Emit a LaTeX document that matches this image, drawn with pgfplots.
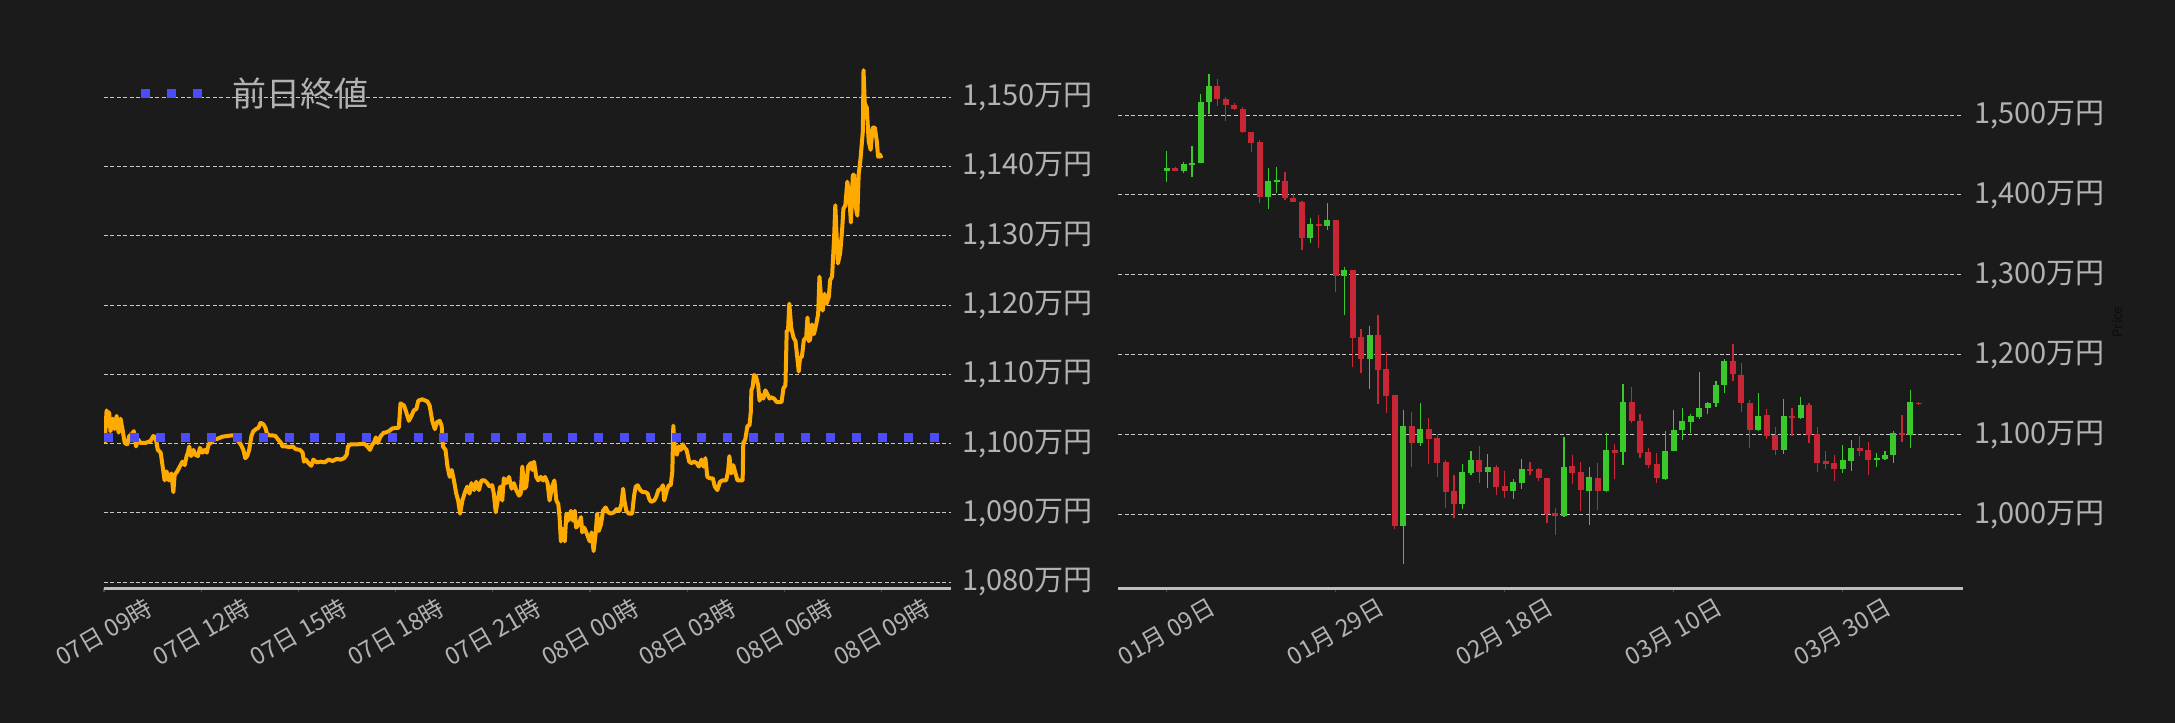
\documentclass[border=0pt]{standalone}
\usepackage{fontspec}
\setmainfont{Noto Sans CJK JP}
\usepackage{pgfplots}
\pgfplotsset{compat=1.18}
\usepackage{pgfplotstable}

\definecolor{bg}{RGB}{27,27,27}
\definecolor{lbl}{RGB}{178,178,178}
\definecolor{grd}{RGB}{200,200,200}
\definecolor{axl}{RGB}{190,190,190}
\definecolor{tck}{RGB}{75,75,75}
\definecolor{btc}{RGB}{255,170,0}
\definecolor{prev}{RGB}{76,76,250}
\definecolor{up}{RGB}{58,201,42}
\definecolor{dn}{RGB}{200,38,52}

% intraday price, hours after 07日 09時, 万円
\pgfplotstableread{
h p
0.02 1100.1
0.08 1104.8
0.12 1102.6
0.16 1104.5
0.20 1101.8
0.27 1103.6
0.33 1102.1
0.39 1104.0
0.45 1101.6
0.51 1103.6
0.57 1102.1
0.64 1100.1
0.72 1099.9
0.78 1101.1
0.84 1101.3
0.92 1101.8
0.99 1099.6
1.05 1100.6
1.13 1100.1
1.28 1100.1
1.44 1100.4
1.52 1101.1
1.59 1100.9
1.66 1099.1
1.75 1098.7
1.81 1096.7
1.87 1094.7
1.93 1096.0
2.00 1094.7
2.08 1095.7
2.14 1093.0
2.18 1095.5
2.26 1096.0
2.34 1096.7
2.42 1097.4
2.49 1096.9
2.55 1098.2
2.59 1098.7
2.63 1099.6
2.69 1098.2
2.76 1099.1
2.82 1098.4
2.90 1098.2
2.96 1099.4
3.04 1098.7
3.11 1099.1
3.17 1098.7
3.23 1099.9
3.29 1100.1
3.39 1100.6
3.50 1100.7
3.65 1101.0
3.80 1101.1
3.96 1101.2
4.06 1101.1
4.13 1100.4
4.22 1099.9
4.30 1099.1
4.36 1097.9
4.42 1098.2
4.48 1099.1
4.55 1101.1
4.61 1101.8
4.69 1102.1
4.77 1102.3
4.83 1103.0
4.92 1102.8
4.98 1102.3
5.04 1101.3
5.12 1101.2
5.20 1101.2
5.29 1101.1
5.37 1100.6
5.45 1100.2
5.51 1099.6
5.61 1099.6
5.72 1099.5
5.82 1099.6
5.92 1099.2
6.05 1099.1
6.13 1098.7
6.17 1097.4
6.23 1097.7
6.31 1097.2
6.40 1096.8
6.46 1097.7
6.56 1097.3
6.69 1097.4
6.81 1097.3
6.93 1097.7
7.06 1097.5
7.18 1097.8
7.30 1097.7
7.41 1097.9
7.49 1098.4
7.53 1099.6
7.61 1099.9
7.82 1099.9
8.02 1100.0
8.13 1099.6
8.21 1099.1
8.28 1099.9
8.33 1100.1
8.39 1100.9
8.45 1100.1
8.54 1101.1
8.64 1101.6
8.69 1101.6
8.79 1101.8
8.90 1102.2
9.10 1102.3
9.15 1105.8
9.26 1105.5
9.33 1104.5
9.41 1103.3
9.49 1104.0
9.56 1104.8
9.64 1105.0
9.70 1106.2
9.82 1106.4
9.98 1106.1
10.05 1105.5
10.13 1103.3
10.21 1102.1
10.28 1103.1
10.36 1103.3
10.42 1102.6
10.46 1099.6
10.54 1099.1
10.60 1096.7
10.67 1095.2
10.73 1096.2
10.80 1094.7
10.87 1092.8
10.93 1091.8
10.99 1089.9
11.06 1091.8
11.14 1093.0
11.21 1093.8
11.28 1092.8
11.34 1094.3
11.42 1093.3
11.49 1094.5
11.57 1093.3
11.65 1094.7
11.74 1094.7
11.83 1094.3
11.90 1093.8
11.98 1094.0
12.03 1092.8
12.09 1090.1
12.15 1091.8
12.23 1093.8
12.29 1091.8
12.34 1095.0
12.41 1094.3
12.50 1095.2
12.58 1093.5
12.65 1094.3
12.72 1093.3
12.81 1092.5
12.86 1092.8
12.91 1096.7
12.97 1093.5
13.03 1093.8
13.09 1096.7
13.17 1097.2
13.22 1096.2
13.27 1097.4
13.34 1095.2
13.40 1094.7
13.48 1095.2
13.55 1094.7
13.61 1095.2
13.69 1094.3
13.75 1091.8
13.83 1093.8
13.90 1094.7
13.96 1091.8
14.02 1091.3
14.06 1089.4
14.10 1085.9
14.16 1087.7
14.22 1085.9
14.27 1089.9
14.33 1088.9
14.41 1090.3
14.47 1088.9
14.53 1090.3
14.57 1087.9
14.66 1088.4
14.72 1089.4
14.76 1087.2
14.82 1087.9
14.91 1086.9
14.99 1085.9
15.05 1087.2
15.11 1084.5
15.17 1086.9
15.22 1089.9
15.27 1087.4
15.34 1088.4
15.40 1090.3
15.48 1090.8
15.56 1090.1
15.64 1089.9
15.74 1090.1
15.83 1090.6
15.91 1090.3
15.97 1091.3
16.02 1093.5
16.06 1091.8
16.12 1090.3
16.20 1089.9
16.30 1089.9
16.36 1092.5
16.41 1093.8
16.47 1094.0
16.55 1093.3
16.63 1093.0
16.71 1093.0
16.78 1092.8
16.82 1092.1
16.88 1091.6
16.98 1091.8
17.04 1092.3
17.11 1093.3
17.19 1093.5
17.25 1094.0
17.29 1091.8
17.37 1093.3
17.43 1094.0
17.49 1094.0
17.54 1096.0
17.57 1102.6
17.61 1099.6
17.68 1098.4
17.74 1099.6
17.80 1099.1
17.86 1099.9
17.92 1099.4
17.98 1099.1
18.06 1097.4
18.13 1097.2
18.21 1097.4
18.29 1097.2
18.36 1096.7
18.44 1097.7
18.50 1096.7
18.56 1097.9
18.62 1095.2
18.70 1095.0
18.79 1095.0
18.85 1093.8
18.93 1093.3
19.01 1094.5
19.09 1094.7
19.20 1094.7
19.26 1096.0
19.30 1098.2
19.36 1095.7
19.42 1096.9
19.49 1095.7
19.55 1094.7
19.65 1094.7
19.71 1094.7
19.73 1100.1
19.79 1100.6
19.86 1102.6
19.92 1102.6
19.96 1104.5
19.98 1107.7
20.02 1108.2
20.06 1109.9
20.12 1109.7
20.19 1108.4
20.23 1106.2
20.29 1107.0
20.35 1106.5
20.41 1107.7
20.47 1107.2
20.54 1106.5
20.58 1106.7
20.68 1106.5
20.76 1106.0
20.84 1106.0
20.91 1106.0
20.97 1108.0
21.03 1108.4
21.07 1116.3
21.11 1116.3
21.15 1120.2
21.21 1116.7
21.28 1115.3
21.34 1114.8
21.40 1112.3
21.44 1110.4
21.48 1112.3
21.54 1112.6
21.60 1115.0
21.67 1115.3
21.71 1118.2
21.75 1114.8
21.79 1115.0
21.85 1117.2
21.91 1115.8
21.98 1117.2
22.04 1118.7
22.08 1124.1
22.12 1121.6
22.18 1119.2
22.24 1121.6
22.30 1120.2
22.37 1121.2
22.41 1123.6
22.47 1124.1
22.53 1129.5
22.57 1134.4
22.61 1130.0
22.65 1126.0
22.72 1127.5
22.78 1130.9
22.82 1133.9
22.88 1134.4
22.94 1137.8
23.00 1135.8
23.05 1131.9
23.11 1138.8
23.15 1138.8
23.19 1134.4
23.25 1132.9
23.29 1138.8
23.35 1141.2
23.42 1145.1
23.44 1153.9
23.48 1149.0
23.54 1148.5
23.60 1143.6
23.66 1142.4
23.72 1145.6
23.79 1145.6
23.85 1143.6
23.89 1141.4
23.95 1141.7
23.99 1141.2
}\intraday

% daily candles, day 0 = 01月09日, 万円
\pgfplotstableread{
d o h l c
0 1429.8 1455.2 1416.3 1433.2
2 1429.8 1441.6 1427.3 1439.1
3 1438.3 1461.5 1422.6 1440.4
4 1439.5 1526.2 1439.5 1516.9
5 1516.0 1551.5 1501.7 1536.7
12 1397.3 1434.0 1382.5 1418.0
13 1417.0 1434.9 1402.8 1418.4
17 1345.7 1370.6 1339.8 1364.3
19 1360.9 1390.1 1355.8 1368.1
21 1298.8 1309.3 1250.2 1306.4
24 1194.4 1236.2 1157.6 1225.2
28 985.6 1130.5 938.6 1111.5
30 1089.5 1140.3 1085.3 1107.7
35 1013.0 1062.9 1007.1 1052.8
36 1051.9 1080.2 1050.2 1068.0
38 1053.2 1076.0 1033.7 1059.1
41 1029.5 1044.7 1019.8 1040.5
42 1039.7 1070.1 1032.5 1056.6
47 998.2 1096.7 996.5 1059.1
50 1029.5 1060.0 987.3 1047.7
52 1029.5 1101.8 1028.2 1081.5
54 1078.1 1163.5 1062.1 1141.5
59 1045.2 1104.7 1043.5 1080.2
60 1079.4 1131.4 1079.4 1106.4
61 1105.6 1133.9 1093.8 1116.6
62 1115.7 1126.3 1102.6 1122.9
63 1122.1 1177.9 1120.0 1133.9
64 1133.1 1141.5 1126.3 1140.3
65 1139.4 1167.7 1134.8 1162.7
66 1162.2 1195.2 1152.5 1191.8
70 1105.6 1151.7 1104.3 1122.9
73 1080.6 1145.3 1076.0 1122.9
75 1120.8 1146.6 1119.5 1137.7
80 1057.0 1086.6 1052.3 1068.0
81 1067.1 1092.9 1054.9 1082.8
84 1068.4 1077.7 1060.0 1070.5
85 1069.7 1080.2 1068.4 1075.2
86 1074.3 1105.2 1065.0 1102.6
88 1100.1 1155.5 1083.6 1141.5
}\upcandles

\pgfplotstableread{
d o h l c
1 1433.2 1434.9 1429.5 1430.0
6 1536.7 1545.2 1511.4 1519.8
7 1520.7 1522.8 1492.8 1512.2
8 1513.1 1515.2 1505.9 1507.2
9 1508.0 1510.1 1477.1 1478.4
10 1479.3 1479.3 1453.9 1465.7
11 1466.6 1468.7 1389.7 1397.3
14 1418.0 1429.0 1393.9 1396.0
15 1396.8 1401.1 1390.9 1390.9
16 1391.8 1392.6 1331.3 1345.7
18 1364.3 1374.9 1333.9 1360.9
20 1368.1 1368.9 1278.5 1298.8
22 1306.4 1306.4 1184.6 1221.0
23 1222.7 1232.4 1177.5 1194.4
25 1225.2 1250.2 1138.6 1180.8
26 1181.7 1203.7 1127.6 1148.3
27 1149.1 1150.0 981.7 985.6
29 1111.5 1128.8 1060.0 1089.5
31 1107.7 1121.2 1063.7 1094.6
32 1095.4 1100.1 1047.3 1064.6
33 1065.4 1068.4 1008.4 1028.3
34 1029.1 1050.2 996.1 1013.0
37 1068.0 1086.1 1040.1 1053.2
39 1059.1 1061.6 1024.5 1034.6
40 1035.4 1054.9 1021.1 1029.5
43 1056.6 1066.3 1049.8 1055.3
44 1056.6 1058.7 1042.6 1045.6
45 1046.4 1046.4 989.4 1000.8
46 1001.6 1008.4 975.0 998.2
48 1060.4 1074.7 1038.4 1051.9
49 1052.8 1066.3 1004.3 1030.8
51 1046.4 1065.0 1006.0 1029.5
53 1081.5 1088.7 1044.3 1076.8
55 1141.5 1159.3 1114.5 1117.0
56 1117.8 1126.3 1071.4 1076.8
57 1078.1 1083.2 1058.7 1062.1
58 1062.9 1077.7 1040.1 1045.6
67 1191.8 1213.0 1167.3 1175.8
68 1175.3 1189.3 1128.8 1139.4
69 1140.3 1143.6 1083.6 1105.6
71 1124.2 1132.2 1094.2 1098.4
72 1099.7 1109.4 1075.2 1080.6
74 1122.9 1133.5 1098.8 1120.8
76 1137.7 1140.3 1089.9 1099.7
77 1100.5 1110.2 1052.8 1064.6
78 1066.7 1080.2 1057.4 1063.3
79 1064.2 1075.2 1042.6 1057.0
82 1082.8 1098.0 1073.5 1080.2
83 1081.5 1090.4 1049.8 1068.4
87 1102.6 1124.2 1091.2 1100.1
89 1140.3 1141.4 1137.3 1138.1
}\dncandles

\pgfplotsset{
  panel/.style={
    scale only axis, height=271.65pt, anchor=south west,
    axis x line*=bottom, axis y line*=right,
    x axis line style={draw=axl, line width=1.2pt},
    y axis line style={draw=none},
    ytick style={draw=none},
    xtick style={draw=tck, line width=0.6pt},
    major tick length=2pt, tick align=outside,
    scaled ticks=false,
    ymajorgrids,
    major grid style={draw=grd, line width=0.5pt, dash pattern=on 2pt off 1.2pt},
    xticklabel shift=20pt,
    xticklabel style={font=\fontsize{12}{14}\selectfont, text=lbl,
      anchor=center, rotate=30},
    yticklabel style={font=\fontsize{14.5}{17}\selectfont, text=lbl, anchor=west},
  },
  wick/.style={draw=none, mark=none, forget plot,
    error bars/.cd, y dir=both, y explicit, error mark=none,
    error bar style={draw=#1, line width=0.6pt}},
  body/.style={draw=none, mark=none, forget plot,
    error bars/.cd, y dir=both, y explicit, error mark=none,
    error bar style={draw=#1, line width=3pt}},
}

\begin{document}
\begin{tikzpicture}
\fill[bg, use as bounding box] (0pt,0pt) rectangle (1087.5pt,361.5pt);

% left: intraday
\begin{axis}[panel, at={(52pt,67.35pt)}, width=423.5pt,
  xmin=0, xmax=26.14, ymin=1079.13, ymax=1157.52,
  xtick={0,3,...,24},
  xticklabels={07日 09時,07日 12時,07日 15時,07日 18時,07日 21時,08日 00時,08日 03時,08日 06時,08日 09時},
  ytick={1080,1090,...,1150},
  yticklabels={{1,080万円},{1,090万円},{1,100万円},{1,110万円},{1,120万円},{1,130万円},{1,140万円},{1,150万円}},
  legend style={at={(0.0378,0.911)}, anchor=west, draw=none, fill=none,
    text=lbl, font=\fontsize{17}{20}\selectfont, inner xsep=0pt, inner ysep=0pt},
  legend image code/.code={\draw[#1] (0pt,0pt) -- (31pt,0pt); \path[draw=none] (0pt,0pt) -- (44pt,0pt);},
]
\addplot[btc, line width=2pt, line join=round, forget plot] table[x=h, y=p] {\intraday};
\addplot[prev, line width=4.5pt, dash pattern=on 4.5pt off 8.4pt] coordinates {(0,1100.9) (26.14,1100.9)};
\addlegendentry{前日終値}
\end{axis}

% right: daily candles
\begin{axis}[panel, at={(559.15pt,67.35pt)}, width=422.35pt,
  xmin=-5.73, xmax=94.23, ymin=907.8, ymax=1587.7,
  xtick={0,20,40,60,80},
  xticklabels={01月 09日,01月 29日,02月 18日,03月 10日,03月 30日},
  ytick={1000,1100,...,1500},
  yticklabels={{1,000万円},{1,100万円},{1,200万円},{1,300万円},{1,400万円},{1,500万円}},
  ylabel={Price},
  ylabel style={at={(axis description cs:1.1835,0.49)}, anchor=center,
    font=\fontsize{6.5}{7}\selectfont, text={rgb,255:red,12;green,12;blue,12}},
]
\addplot[wick=up] table[x=d, y expr={(\thisrow{h}+\thisrow{l})/2}, y error expr={(\thisrow{h}-\thisrow{l})/2}] {\upcandles};
\addplot[body=up] table[x=d, y expr={(\thisrow{o}+\thisrow{c})/2}, y error expr={abs(\thisrow{c}-\thisrow{o})/2}] {\upcandles};
\addplot[wick=dn] table[x=d, y expr={(\thisrow{h}+\thisrow{l})/2}, y error expr={(\thisrow{h}-\thisrow{l})/2}] {\dncandles};
\addplot[body=dn] table[x=d, y expr={(\thisrow{o}+\thisrow{c})/2}, y error expr={abs(\thisrow{c}-\thisrow{o})/2}] {\dncandles};
\end{axis}
\end{tikzpicture}
\end{document}
